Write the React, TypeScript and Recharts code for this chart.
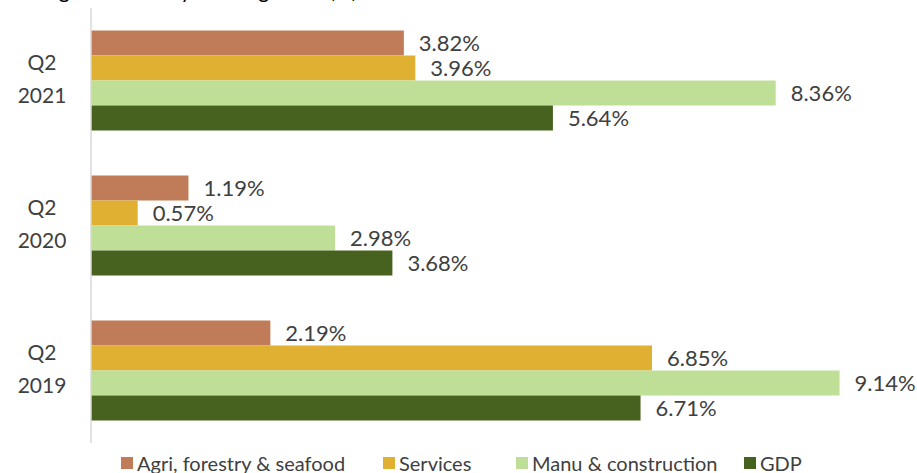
import React from "react"
import { BarChart, Bar, XAxis, YAxis, LabelList } from "recharts"

const quarters = ["Q2 2021", "Q2 2020", "Q2 2019"]
const agri = [3.82, 1.19, 2.19]
const services = [3.96, 0.57, 6.85]
const manu = [8.36, 2.98, 9.14]
const gdp = [5.64, 3.68, 6.71]

const seriesNames = ["Agri, forestry & seafood", "Services", "Manu & construction", "GDP"]
const seriesKeys = ["agri", "services", "manu", "gdp"]
const colors = ["#C07C58", "#E0B033", "#BFDF97", "#47621F"]
const legendX = [121, 383, 516, 744]

const data = quarters.map((q, i) => ({
  name: q,
  agri: agri[i],
  services: services[i],
  manu: manu[i],
  gdp: gdp[i],
}))

const font = "Lato, 'Open Sans', sans-serif"

function QuarterTick(props: any) {
  const { y, payload } = props
  const [a, b] = String(payload.value).split(" ")
  return (
    <g>
      <text x={42} y={y - 19} textAnchor="middle" dominantBaseline="central" fontSize={21} fill="#404040" fontFamily={font}>{a}</text>
      <text x={42} y={y + 14} textAnchor="middle" dominantBaseline="central" fontSize={21} fill="#404040" fontFamily={font}>{b}</text>
    </g>
  )
}

const fmt = (v: any) => `${Number(v).toFixed(2)}%`

export default function App() {
  return (
    <div style={{ position: "absolute", left: 0, top: 0, width: 917, height: 473, overflow: "hidden", background: "#fff", fontFamily: font }}>
      <div style={{ position: "absolute", left: 10, top: -23, fontSize: 21, color: "#000", whiteSpace: "nowrap" }}>
        GDP growth and by sector growth (%)
      </div>
      <BarChart
        width={917}
        height={473}
        data={data}
        layout="vertical"
        margin={{ top: 8, right: 7, bottom: 30, left: 0 }}
        barGap={0}
        barCategoryGap="15.5%"
      >
        <XAxis type="number" domain={[0, 10]} hide />
        <YAxis
          type="category"
          dataKey="name"
          width={91}
          axisLine={{ stroke: "#D9D9D9", strokeWidth: 1.5 }}
          tickLine={false}
          tick={<QuarterTick />}
        />
        {seriesKeys.map((k, i) => (
          <Bar key={k} dataKey={k} name={seriesNames[i]} fill={colors[i]} isAnimationActive={false}>
            <LabelList dataKey={k} position="right" offset={15} formatter={fmt} fill="#404040" fontSize={22} fontFamily={font} />
          </Bar>
        ))}
      </BarChart>
      {seriesNames.map((n, i) => (
        <div key={n} style={{ position: "absolute", left: legendX[i], top: 451, display: "flex", alignItems: "center", whiteSpace: "nowrap", color: "#404040", fontSize: 20 }}>
          <span style={{ display: "inline-block", width: 12, height: 12, background: colors[i], marginRight: 4 }} />
          {n}
        </div>
      ))}
    </div>
  )
}
